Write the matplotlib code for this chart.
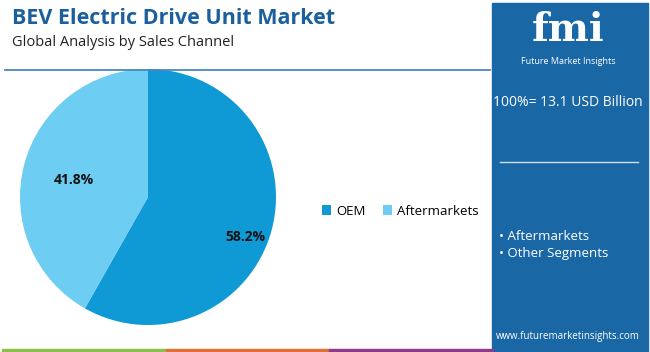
import numpy as np
import matplotlib
matplotlib.use("Agg")
import matplotlib.pyplot as plt
from matplotlib.patches import Rectangle
from matplotlib.lines import Line2D

plt.rcParams['font.family'] = ['Open Sans', 'DejaVu Sans']

# data
kanaler = ["OEM", "Aftermarkets"]
andeler = [58.2, 41.8]
farger = ["#0f9ad6", "#6dcdf2"]
segmenter = ["Aftermarkets", "Other Segments"]
total = "100%= 13.1 USD Billion"

W, H = 650, 352
fig = plt.figure(figsize=(W / 100, H / 100), dpi=100)

def px(x, y):
    # piksel (ovenfra) -> figurbrøk
    return x / W, 1 - y / H

# tittel
fig.text(*px(12, 18), "BEV Electric Drive Unit Market", fontsize=15.5, fontweight="bold",
         color="#1b5f9c", va="center", ha="left")
fig.text(*px(12, 42), "Global Analysis by Sales Channel", fontsize=10.5,
         color="#222222", va="center", ha="left")
fig.add_artist(Line2D([5 / W, 490 / W], [1 - 70 / H] * 2, color="#4a86c0", lw=1.3))

# kakediagram
ax = fig.add_axes([20 / W, 1 - 325 / H, 256 / W, 256 / H])
kiler, _ = ax.pie(andeler, colors=farger, startangle=90, counterclock=False,
                  wedgeprops=dict(linewidth=0))
# etikettplassering (avstand fra sentrum, forskyvning i punkter)
plassering = [(0.8, (-1, -10)), (0.6, (0, -2))]
for kile, verdi, (r, forsk) in zip(kiler, andeler, plassering):
    midt = np.deg2rad((kile.theta1 + kile.theta2) / 2)
    ax.annotate(f"{verdi:.1f}%", (r * np.cos(midt), r * np.sin(midt)), xytext=forsk,
                textcoords="offset points", ha="center", va="center",
                fontsize=10, fontweight="bold", color="#111111")
ax.set_xlim(-1, 1)
ax.set_ylim(-1, 1)
ax.set_aspect("equal")
ax.axis("off")

# forklaring
leg = fig.legend(kiler, kanaler, loc="center left", bbox_to_anchor=px(310, 211), ncol=2,
                 frameon=False, fontsize=9.5, handlelength=0.7, handleheight=0.7,
                 handletextpad=0.4, columnspacing=1.3)

# høyre panel
fig.add_artist(Rectangle(px(492, 352), 156 / W, 349 / H, color="#1a67a6", zorder=0))
fig.text(*px(568, 30), "fmi", fontsize=28, fontweight="bold", color="white", family="DejaVu Serif",
         ha="center", va="center")
fig.text(*px(568, 61), "Future Market Insights", fontsize=6.5, color="white", ha="center", va="center")
fig.text(*px(568, 103), total, fontsize=10, color="white", ha="center", va="center")
fig.add_artist(Line2D([500 / W, 638 / W], [1 - 162 / H] * 2, color="#cfe0ee", lw=1))
for i, s in enumerate(segmenter):
    fig.text(*px(499, 237 + 17 * i), "• " + s, fontsize=9.5, color="white", ha="left", va="center")
fig.text(*px(568, 337), "www.futuremarketinsights.com", fontsize=7, color="white",
         ha="center", va="center")

# fargestripe nederst
for x0, x1, c in [(2, 166, "#8cbf4a"), (166, 329, "#e0703a"), (329, 493, "#8e3b8c")]:
    fig.add_artist(Rectangle(px(x0, 352), (x1 - x0) / W, 3 / H, color=c))

fig.savefig("out.png", dpi=100, facecolor="white")
